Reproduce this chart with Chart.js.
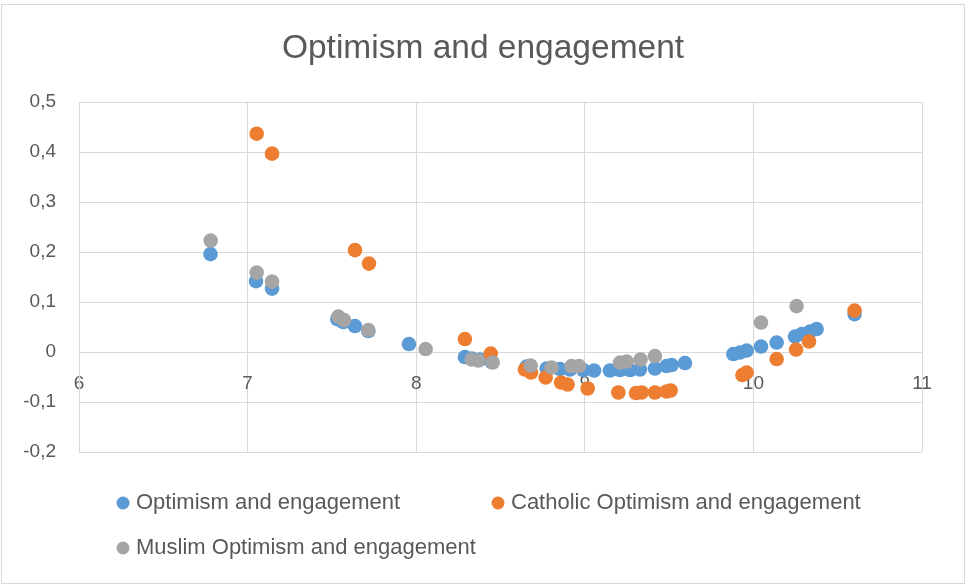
<!DOCTYPE html>
<html>
<head>
<meta charset="utf-8">
<script src="https://cdn.jsdelivr.net/npm/chart.js@4.4.1/dist/chart.umd.min.js"></script>
<style>
  html, body { margin: 0; padding: 0; background: #ffffff; }
  #wrap { width: 966px; height: 585px; position: relative; }
</style>
</head>
<body>
<div id="wrap"><canvas id="c" width="966" height="585"></canvas></div>
<script>
// ---- data ----
const chartTitle = "Optimism and engagement";
const seriesNames = ["Optimism and engagement", "Catholic Optimism and engagement", "Muslim Optimism and engagement"];

const allX = [6.78, 7.05, 7.145, 7.532, 7.568, 7.637, 7.716, 7.957, 8.289, 8.33, 8.377, 8.448,
  8.655, 8.774, 8.853, 8.912, 8.991, 9.055, 9.149, 9.209, 9.268, 9.327, 9.416, 9.485, 9.515, 9.594,
  9.881, 9.921, 9.96, 10.045, 10.138, 10.247, 10.287, 10.336, 10.375, 10.6];
const allY = [0.196, 0.142, 0.127, 0.066, 0.060, 0.052, 0.042, 0.016, -0.010, -0.013, -0.015, -0.020,
  -0.029, -0.033, -0.034, -0.035, -0.036, -0.037, -0.037, -0.036, -0.036, -0.035, -0.033, -0.028, -0.026, -0.022,
  -0.004, -0.001, 0.003, 0.011, 0.019, 0.031, 0.036, 0.041, 0.046, 0.076];

const catholicX = [7.054, 7.145, 7.637, 7.72, 8.289, 8.442, 8.645, 8.681, 8.768, 8.859, 8.898, 9.017,
  9.199, 9.304, 9.337, 9.416, 9.485, 9.509, 9.935, 9.96, 10.138, 10.253, 10.33, 10.6];
const catholicY = [0.437, 0.397, 0.204, 0.177, 0.026, -0.003, -0.035, -0.041, -0.051, -0.061, -0.065, -0.073,
  -0.081, -0.082, -0.081, -0.081, -0.079, -0.077, -0.046, -0.041, -0.014, 0.005, 0.021, 0.083];

const muslimX = [6.781, 7.054, 7.145, 7.538, 7.572, 7.716, 8.056, 8.329, 8.368, 8.454, 8.679, 8.803,
  8.921, 8.966, 9.209, 9.248, 9.331, 9.416, 10.045, 10.256];
const muslimY = [0.223, 0.159, 0.141, 0.071, 0.064, 0.044, 0.006, -0.015, -0.017, -0.021, -0.027, -0.031,
  -0.028, -0.028, -0.021, -0.019, -0.015, -0.008, 0.059, 0.092];

const xTicks = [6, 7, 8, 9, 10, 11];
const yTicks = [-0.2, -0.1, 0, 0.1, 0.2, 0.3, 0.4, 0.5];

// ---- styling ----
const colors = ["#5B9BD5", "#ED7D31", "#A5A5A5"];
const textColor = "#595959";
const gridColor = "#D9D9D9";
const fontFamily = "'Liberation Sans', Arial, sans-serif";

function pts(xs, ys) { return xs.map((x, i) => ({ x: x, y: ys[i] })); }

const frame = {
  id: 'frame',
  beforeDraw(chart) {
    const ctx = chart.ctx;
    ctx.save();
    ctx.fillStyle = '#ffffff';
    ctx.fillRect(0, 0, chart.width, chart.height);
    ctx.strokeStyle = gridColor;
    ctx.lineWidth = 1;
    ctx.strokeRect(1.5, 4.5, chart.width - 3, chart.height - 6);
    ctx.restore();
  }
};

const customLegend = {
  id: 'customLegend',
  afterDraw(chart) {
    const ctx = chart.ctx;
    const a = chart.chartArea;
    const slots = [
      { x: a.left + 44, y: a.bottom + 51 },
      { x: a.left + 419, y: a.bottom + 51 },
      { x: a.left + 44, y: a.bottom + 96 }
    ];
    ctx.save();
    ctx.font = "22px " + fontFamily;
    ctx.textBaseline = 'middle';
    ctx.textAlign = 'left';
    chart.data.datasets.forEach((ds, i) => {
      const s = slots[i];
      ctx.fillStyle = ds.backgroundColor;
      ctx.beginPath();
      ctx.arc(s.x, s.y, 6.5, 0, Math.PI * 2);
      ctx.fill();
      ctx.fillStyle = textColor;
      ctx.fillText(ds.label, s.x + 13, s.y);
    });
    ctx.restore();
  }
};

new Chart(document.getElementById('c'), {
  type: 'scatter',
  data: {
    datasets: [
      { label: seriesNames[0], data: pts(allX, allY), backgroundColor: colors[0], borderColor: colors[0], order: 3 },
      { label: seriesNames[1], data: pts(catholicX, catholicY), backgroundColor: colors[1], borderColor: colors[1], order: 2 },
      { label: seriesNames[2], data: pts(muslimX, muslimY), backgroundColor: colors[2], borderColor: colors[2], order: 1 }
    ]
  },
  options: {
    responsive: false,
    animation: false,
    devicePixelRatio: 1,
    elements: { point: { radius: 7.3, borderWidth: 0, hoverRadius: 7.3 } },
    layout: { padding: { left: 0, right: 0, top: 0, bottom: 133 } },
    plugins: {
      legend: { display: false },
      tooltip: { enabled: false },
      title: {
        display: true,
        text: chartTitle,
        color: textColor,
        font: { family: fontFamily, size: 33.5, weight: 'normal' },
        padding: { top: 29, bottom: 33 }
      }
    },
    scales: {
      x: {
        type: 'linear',
        position: { y: 0 },
        min: xTicks[0],
        max: xTicks[xTicks.length - 1],
        afterBuildTicks(scale) { scale.ticks = xTicks.map(v => ({ value: v })); },
        grid: { color: gridColor, lineWidth: 1, drawTicks: false },
        border: { color: gridColor, width: 1 },
        ticks: {
          color: textColor,
          padding: 20,
          font: { family: fontFamily, size: 19 },
          callback: v => String(v)
        }
      },
      y: {
        type: 'linear',
        position: 'left',
        min: yTicks[0],
        max: yTicks[yTicks.length - 1],
        afterBuildTicks(scale) { scale.ticks = yTicks.map(v => ({ value: v })); },
        afterFit(scale) { scale.width = 79; },
        grid: { color: gridColor, lineWidth: 1, drawTicks: false },
        border: { color: gridColor, width: 1 },
        ticks: {
          color: textColor,
          padding: 23,
          font: { family: fontFamily, size: 19 },
          callback: v => (Math.abs(v) < 1e-9 ? "0" : v.toFixed(1).replace('.', ','))
        }
      },
      rightSpace: {
        type: 'linear',
        position: 'right',
        min: 0,
        max: 1,
        afterFit(scale) { scale.width = 44; },
        grid: { display: false, drawTicks: false },
        border: { display: false },
        ticks: { display: false }
      }
    }
  },
  plugins: [frame, customLegend]
});
</script>
</body>
</html>
